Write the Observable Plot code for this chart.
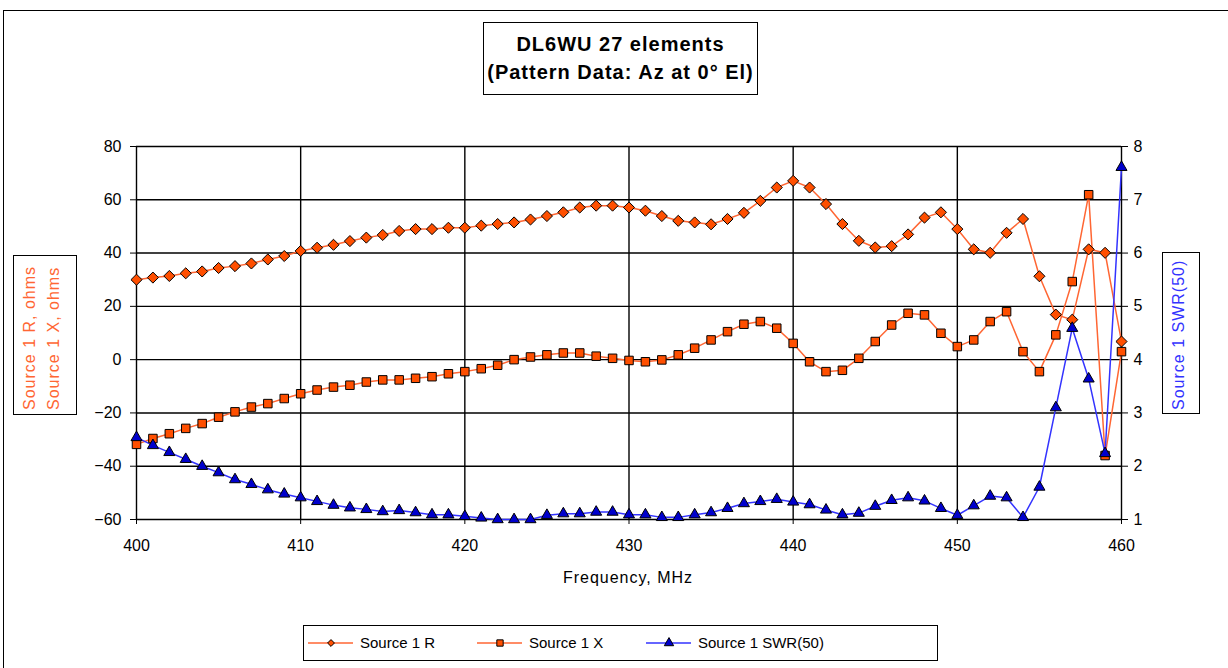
<!DOCTYPE html>
<html><head><meta charset="utf-8">
<script src="https://cdn.jsdelivr.net/npm/d3@7"></script>
<script src="https://cdn.jsdelivr.net/npm/@observablehq/plot@0.6"></script>
<style>
html,body{margin:0;padding:0;background:#fff;overflow:hidden;}
body{font-family:"Liberation Sans",Arial,sans-serif;}
#wrap{position:relative;width:1228px;height:668px;overflow:hidden;}
#frame{position:absolute;left:3px;top:10px;width:1260px;height:700px;border:1px solid #000;box-sizing:border-box;}
#chart{position:absolute;left:0;top:0;}
#title{position:absolute;left:483px;top:22px;width:275px;height:73px;border:1px solid #000;box-sizing:border-box;background:#fff;
  font-weight:bold;font-size:20px;letter-spacing:1px;text-align:center;line-height:28px;padding-top:7px;color:#000;}
.ylab{position:absolute;border:1px solid #000;box-sizing:border-box;background:#fff;}
.ylab span{position:absolute;white-space:nowrap;font-size:16px;letter-spacing:1px;line-height:18px;transform-origin:0 0;}
#xlab{position:absolute;left:0;width:1256px;top:569px;text-align:center;font-size:16px;letter-spacing:1px;color:#000;}
#legend{position:absolute;left:303px;top:625px;width:635px;height:36px;border:1px solid #000;box-sizing:border-box;background:#fff;font-size:15px;}
#legend .it{position:absolute;top:0;height:34px;}
#legend svg{position:absolute;top:9px;}
#legend .tx{position:absolute;top:8px;white-space:nowrap;color:#000;}
</style></head>
<body>
<div id="wrap">
  <div id="frame"></div>
  <div id="chart"></div>
  <div id="title">DL6WU 27 elements<br>(Pattern Data: Az at 0° El)</div>
  <div class="ylab" id="ylabL" style="left:13px;top:255px;width:64px;height:160px;">
    <span style="left:7px;top:154px;transform:rotate(-90deg);color:#FF6633;">Source 1 R, ohms</span>
    <span style="left:31px;top:154px;transform:rotate(-90deg);color:#FF6633;">Source 1 X, ohms</span>
  </div>
  <div class="ylab" id="ylabR" style="left:1162px;top:252px;width:38px;height:162px;">
    <span style="left:7px;top:157px;transform:rotate(-90deg);color:#3333FF;">Source 1 SWR(50)</span>
  </div>
  <div id="xlab">Frequency, MHz</div>
  <div id="legend"></div>
</div>
<script>
// ---- data ----
const freq = [400,401,402,403,404,405,406,407,408,409,410,411,412,413,414,415,416,417,418,419,420,
  421,422,423,424,425,426,427,428,429,430,431,432,433,434,435,436,437,438,439,440,
  441,442,443,444,445,446,447,448,449,450,451,452,453,454,455,456,457,458,459,460];
const sourceR = [30.0,30.8,31.4,32.4,33.1,34.4,35.1,36.1,37.6,38.9,40.8,42.0,43.1,44.5,45.8,46.8,48.3,49.0,49.0,49.5,49.5,
  50.3,50.9,51.5,52.6,53.9,55.3,57.1,57.8,57.8,57.1,55.9,53.9,52.1,51.5,50.8,52.8,55.1,59.6,64.6,67.1,
  64.6,58.4,50.9,44.6,42.1,42.6,47.0,53.3,55.3,49.0,41.4,40.1,47.6,52.8,31.3,16.9,15.0,41.4,40.1,6.8];
const sourceX = [-31.8,-29.6,-27.8,-25.8,-24.0,-21.6,-19.6,-17.8,-16.5,-14.6,-12.8,-11.4,-10.3,-9.6,-8.4,-7.6,-7.6,-7.0,-6.4,-5.3,-4.5,
  -3.4,-2.1,0.0,1.0,1.8,2.5,2.5,1.3,0.5,-0.3,-0.8,-0.1,1.8,4.3,7.4,10.5,13.3,14.3,11.8,6.1,
  -0.8,-4.5,-4.0,0.5,6.8,13.0,17.4,16.8,9.9,4.9,7.4,14.3,18.0,3.0,-4.5,9.3,29.3,61.9,-36.0,3.0];
const swr50 = [2.54,2.39,2.26,2.13,2.00,1.88,1.75,1.66,1.56,1.48,1.41,1.34,1.27,1.22,1.19,1.15,1.17,1.13,1.09,1.09,1.06,
  1.03,1.00,1.00,1.00,1.08,1.11,1.11,1.14,1.14,1.09,1.09,1.04,1.04,1.09,1.13,1.21,1.30,1.34,1.38,1.33,
  1.28,1.18,1.09,1.12,1.25,1.36,1.41,1.35,1.21,1.08,1.26,1.44,1.41,1.04,1.61,3.10,4.59,3.64,2.24,7.61];
const xTicks = [400,410,420,430,440,450,460];
const yTicksLeft = [-60,-40,-20,0,20,40,60,80];
const yTicksRight = [1,2,3,4,5,6,7,8];
const seriesNames = ["Source 1 R","Source 1 X","Source 1 SWR(50)"];

// right axis (SWR 1..8) mapped onto the left axis (-60..80)
const swrToLeft = s => -60 + (s - 1) * 20;
const leftToSwr = v => (v + 60) / 20 + 1;

const rows = freq.map((f, i) => ({f, R: sourceR[i], X: sourceX[i], S: swrToLeft(swr50[i])}));

const orangeLine = "#FF6633", orangeFill = "#FF4F00", blueLine = "#3333FF", blueFill = "#0000CC";

const chart = Plot.plot({
  width: 1228, height: 668,
  marginLeft: 136, marginRight: 107, marginTop: 146, marginBottom: 149,
  style: {fontFamily: '"Liberation Sans", Arial, sans-serif', fontSize: "16px", background: "transparent", color: "#000", overflow: "visible"},
  x: {domain: [400, 460]},
  y: {domain: [-60, 80]},
  marks: [
    Plot.ruleY(yTicksLeft, {stroke: "#000", strokeWidth: 1.4}),
    Plot.ruleX(xTicks, {stroke: "#000", strokeWidth: 1.4}),
    Plot.axisY({ticks: yTicksLeft, anchor: "left", tickSize: 6, tickPadding: 9, label: null, fontSize: 16, style: "letter-spacing:1px"}),
    Plot.axisY({ticks: yTicksRight.map(swrToLeft), anchor: "right", tickSize: 6, tickPadding: 6, label: null, fontSize: 16,
      tickFormat: v => String(Math.round(leftToSwr(v))), style: "letter-spacing:1px"}),
    Plot.axisX({ticks: xTicks, anchor: "bottom", tickSize: 5, tickPadding: 15, label: null, fontSize: 16, style: "letter-spacing:1px"}),
    Plot.line(rows, {x: "f", y: "R", stroke: orangeLine, strokeWidth: 1.5}),
    Plot.line(rows, {x: "f", y: "X", stroke: orangeLine, strokeWidth: 1.5}),
    Plot.line(rows, {x: "f", y: "S", stroke: blueLine, strokeWidth: 1.5}),
    Plot.dot(rows, {x: "f", y: "R", symbol: "diamond2", r: 5.0, fill: orangeFill, stroke: "#000", strokeWidth: 1}),
    Plot.dot(rows, {x: "f", y: "X", symbol: "square", r: 4.8, fill: orangeFill, stroke: "#000", strokeWidth: 1}),
    Plot.dot(rows, {x: "f", y: "S", symbol: "triangle", r: 4.1, fill: blueFill, stroke: "#000", strokeWidth: 1})
  ]
});
document.getElementById("chart").appendChild(chart);

// legend
const legend = d3.select("#legend");
const items = [
  {name: seriesNames[0], line: orangeLine, fill: orangeFill, sym: d3.symbolDiamond2, size: 30, x: 4},
  {name: seriesNames[1], line: orangeLine, fill: orangeFill, sym: d3.symbolSquare, size: 40, x: 173},
  {name: seriesNames[2], line: blueLine, fill: blueFill, sym: d3.symbolTriangle, size: 38, x: 342}
];
items.forEach(it => {
  const g = legend.append("div").attr("class", "it").style("left", it.x + "px");
  const s = g.append("svg").attr("width", 48).attr("height", 16).style("left", "0px");
  s.append("line").attr("x1", 0).attr("x2", 45).attr("y1", 8).attr("y2", 8).attr("stroke", it.line).attr("stroke-width", 1.5);
  s.append("path").attr("d", d3.symbol(it.sym, it.size)()).attr("transform", "translate(23,8)")
    .attr("fill", it.fill).attr("stroke", "#000").attr("stroke-width", 1);
  g.append("div").attr("class", "tx").style("left", "52px").text(it.name);
});
</script>
</body></html>
